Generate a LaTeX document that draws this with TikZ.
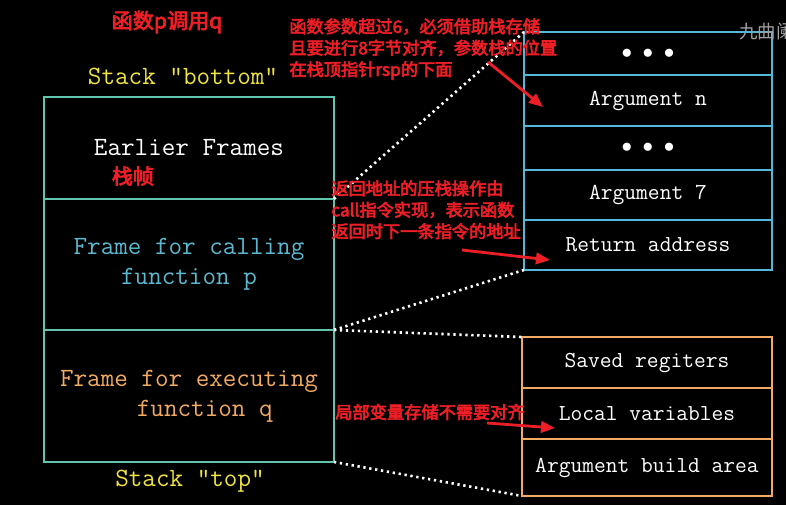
\documentclass[tikz,border=0pt]{standalone}
\usepackage{fontspec}
\setmonofont{Latin Modern Mono}
\newfontfamily\cjk{Noto Sans CJK SC}[FakeBold=3.5]
\newfontfamily\cjklight{Noto Sans CJK SC}
\usepackage{tikz}
\usetikzlibrary{positioning}
\usetikzlibrary{arrows.meta}
\definecolor{framecolor}{RGB}{94, 198, 174}
\definecolor{argcolor}{RGB}{84, 184, 216}
\definecolor{qcolor}{RGB}{242, 170, 100}
\definecolor{pcolor}{RGB}{92, 184, 208}
\definecolor{stackyellow}{RGB}{240, 226, 64}
\definecolor{notered}{RGB}{238, 30, 38}

\tikzset{
  stackframe/.style={draw=framecolor, line width=1.5pt, outer sep=0pt, inner sep=0pt,
    minimum width=5.8cm, align=center, font=\ttfamily\fontsize{15}{17}\selectfont},
  argrow/.style={draw=argcolor, line width=1.5pt, outer sep=0pt, inner sep=0pt,
    minimum width=4.96cm, text=white, font=\ttfamily\fontsize{13}{15}\selectfont},
  qrow/.style={argrow, draw=qcolor, minimum width=5cm},
  stacklabel/.style={text=stackyellow, font=\ttfamily\fontsize{15}{17}\selectfont},
  note/.style={text=notered, inner sep=0pt, align=left,
    font=\cjk\fontsize{9.8}{12.2}\selectfont},
  notearrow/.style={notered, line width=1.6pt, -{Triangle[length=8pt, width=6.5pt]}},
  zoomline/.style={white, line width=1.5pt, dash pattern=on 1.3pt off 2.1pt},
}

\newcommand{\rowdots}{$\bullet\;\bullet\;\bullet$}

\begin{document}
\begin{tikzpicture}[x=0.02cm, y=-0.02cm]
  % Fondo
  \fill[black] (0,0) rectangle (786,505);
  \useasboundingbox (0,0) rectangle (786,505);

  % Pila completa
  \node[stackframe, minimum height=2.04cm, anchor=north west, text=white] (earlier) at (44,97) {Earlier Frames};
  \node[stackframe, minimum height=2.62cm, below=0pt of earlier, text=pcolor] (calling) {Frame for calling\\function p};
  \node[stackframe, minimum height=2.64cm, below=0pt of calling, text=qcolor] (executing) {Frame for executing\\\hspace*{1.2em}function q};
  \node[stacklabel] (bottomlabel) at (183,76) {Stack "bottom"};
  \node[stacklabel] (toplabel) at (190,481) {Stack "top"};

  % Argumentos (marco de p)
  \node[argrow, minimum height=0.86cm, anchor=north west] (dotsa) at (524,32) {\rowdots};
  \node[argrow, minimum height=1.02cm, below=0pt of dotsa] (argn) {Argument n};
  \node[argrow, minimum height=0.88cm, below=0pt of argn] (dotsb) {\rowdots};
  \node[argrow, minimum height=1.0cm, below=0pt of dotsb] (argseven) {Argument 7};
  \node[argrow, minimum height=1.0cm, below=0pt of argseven] (retaddr) {Return address};

  % Marco de q
  \node[qrow, minimum height=1.02cm, anchor=north west] (saved) at (522,337) {Saved regiters};
  \node[qrow, minimum height=1.02cm, below=0pt of saved] (locals) {Local variables};
  \node[qrow, minimum height=1.14cm, below=0pt of locals] (argbuild) {Argument build area};

  % Lineas de detalle
  \draw[zoomline] (earlier.south east) -- (dotsa.north west);
  \draw[zoomline] (calling.south east) -- (retaddr.south west);
  \draw[zoomline] (executing.north east) -- (saved.north west);
  \draw[zoomline] (executing.south east) -- (argbuild.south west);

  % Notas
  \node[note, font=\cjk\fontsize{12}{14}\selectfont] (titlenote) at (167,22) {函数p调用q};
  \node[note, font=\cjk\fontsize{12}{14}\selectfont] (zhen) at (133,176) {栈帧};
  \node[note, anchor=north west] (argnote) at (289,18) {函数参数超过6，必须借助栈存储\\且要进行8字节对齐，参数栈的位置\\在栈顶指针rsp的下面};
  \node[note, anchor=north west] (retnote) at (331,180) {返回地址的压栈操作由\\call指令实现，表示函数\\返回时下一条指令的地址};
  \node[note, anchor=west] (localnote) at (335,412) {局部变量存储不需要对齐};

  \coordinate (argfrom) at (488,62);
  \coordinate (argto) at (543,107);
  \coordinate (retfrom) at (462,250);
  \coordinate (retto) at (550,260);
  \coordinate (localfrom) at (487,423);
  \coordinate (localto) at (555,428);
  \draw[notearrow] (argfrom) -- (argto);
  \draw[notearrow] (retfrom) -- (retto);
  \draw[notearrow] (localfrom) -- (localto);

  \node[anchor=west, inner sep=0pt, text=gray!75, font=\cjklight\fontsize{10.5}{12}\selectfont] (watermark) at (739,31) {九曲阑干};
\end{tikzpicture}
\end{document}
